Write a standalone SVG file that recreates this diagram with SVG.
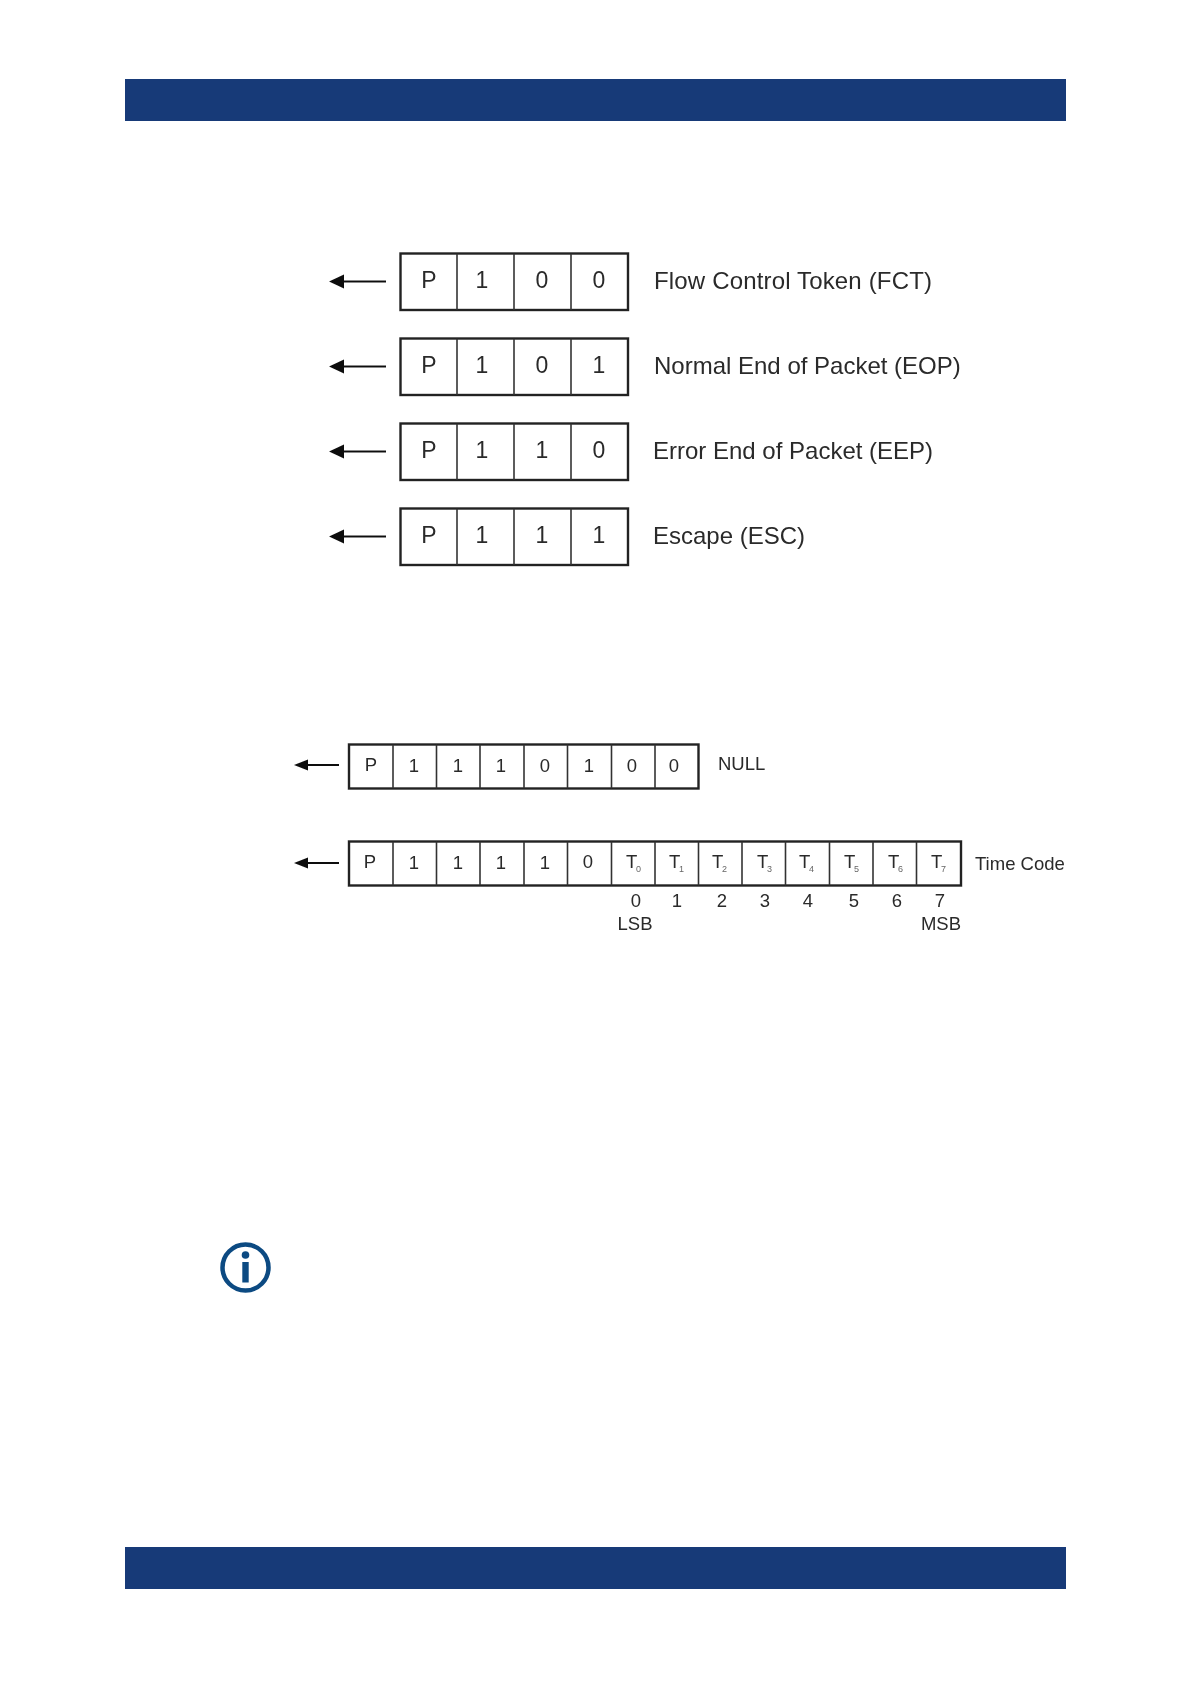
<svg xmlns="http://www.w3.org/2000/svg" width="1191" height="1684" viewBox="0 0 1191 1684">
<style>
text{font-family:"Liberation Sans",Arial,sans-serif;fill:#2a2a2a}
.c{text-anchor:middle}
.b{font-size:23px}
.l{font-size:24px}
.s{font-size:18.500px}
.u{font-size:9px;fill:#666}
.o{fill:#fff;stroke:#222;stroke-width:2.400}
.d{stroke:#333;stroke-width:1.600;fill:none}
.a{stroke:#111;stroke-width:2.200;fill:none}
.h{fill:#111}
.bar{fill:#173a78}
</style>
<defs><filter id="soft" x="-5%" y="-5%" width="110%" height="110%"><feGaussianBlur stdDeviation="0.400"/></filter></defs>
<rect width="1191" height="1684" fill="#fff"/>
<rect class="bar" x="125" y="79" width="941" height="42"/>
<rect class="bar" x="125" y="1547" width="941" height="42"/>
<g id="connectors" filter="url(#soft)">
<path class="a" d="M342 281.500H386M342 366.500H386M342 451.500H386M342 536.500H386M308 765H339M308 863H339"/>
<path class="h" d="M329 281.500L344 274.500V288.500ZM329 366.500L344 359.500V373.500ZM329 451.500L344 444.500V458.500ZM329 536.500L344 529.500V543.500ZM294 765L308 759.500V770.500ZM294 863L308 857.500V868.500Z"/>
</g>
<g id="fct" filter="url(#soft)"><rect class="o" x="400.500" y="253.500" width="227.500" height="56.500"/><path class="d" d="M457 253.500V310M514 253.500V310M571 253.500V310"/>
<text class="b c" x="429" y="288">P</text><text class="b c" x="482" y="288">1</text><text class="b c" x="542" y="288">0</text><text class="b c" x="599" y="288">0</text><text class="l" x="654" y="289" textLength="278">Flow Control Token (FCT)</text></g>
<g id="eop" filter="url(#soft)"><rect class="o" x="400.500" y="338.500" width="227.500" height="56.500"/><path class="d" d="M457 338.500V395M514 338.500V395M571 338.500V395"/>
<text class="b c" x="429" y="373">P</text><text class="b c" x="482" y="373">1</text><text class="b c" x="542" y="373">0</text><text class="b c" x="599" y="373">1</text><text class="l" x="654" y="374">Normal End of Packet (EOP)</text></g>
<g id="eep" filter="url(#soft)"><rect class="o" x="400.500" y="423.500" width="227.500" height="56.500"/><path class="d" d="M457 423.500V480M514 423.500V480M571 423.500V480"/>
<text class="b c" x="429" y="458">P</text><text class="b c" x="482" y="458">1</text><text class="b c" x="542" y="458">1</text><text class="b c" x="599" y="458">0</text><text class="l" x="653" y="459">Error End of Packet (EEP)</text></g>
<g id="esc" filter="url(#soft)"><rect class="o" x="400.500" y="508.500" width="227.500" height="56.500"/><path class="d" d="M457 508.500V565M514 508.500V565M571 508.500V565"/>
<text class="b c" x="429" y="543">P</text><text class="b c" x="482" y="543">1</text><text class="b c" x="542" y="543">1</text><text class="b c" x="599" y="543">1</text><text class="l" x="653" y="544">Escape (ESC)</text></g>
<g id="null" filter="url(#soft)"><rect class="o" x="349" y="744.500" width="349.500" height="44"/><path class="d" d="M393 744.500V788.500M436.500 744.500V788.500M480 744.500V788.500M524 744.500V788.500M567.500 744.500V788.500M611.500 744.500V788.500M655 744.500V788.500"/>
<text class="s c" x="371" y="771">P</text><text class="s c" x="414" y="772">1</text><text class="s c" x="458" y="772">1</text><text class="s c" x="501" y="772">1</text><text class="s c" x="545" y="772">0</text><text class="s c" x="589" y="772">1</text><text class="s c" x="632" y="772">0</text><text class="s c" x="674" y="772">0</text><text class="s" x="718" y="770">NULL</text></g>
<g id="timecode" filter="url(#soft)"><rect class="o" x="349" y="841.500" width="612" height="44"/><path class="d" d="M393 841.500V885.500M436.500 841.500V885.500M480 841.500V885.500M524 841.500V885.500M567.500 841.500V885.500M611.500 841.500V885.500M655 841.500V885.500M698.500 841.500V885.500M742 841.500V885.500M785.500 841.500V885.500M829.500 841.500V885.500M873 841.500V885.500M916.500 841.500V885.500"/>
<text class="s c" x="370" y="868">P</text><text class="s c" x="414" y="869">1</text><text class="s c" x="458" y="869">1</text><text class="s c" x="501" y="869">1</text><text class="s c" x="545" y="869">1</text><text class="s c" x="588" y="868">0</text>
<text class="s" x="626" y="868">T</text><text class="u" x="636" y="872">0</text>
<text class="s" x="669" y="868">T</text><text class="u" x="679" y="872">1</text>
<text class="s" x="712" y="868">T</text><text class="u" x="722" y="872">2</text>
<text class="s" x="757" y="868">T</text><text class="u" x="767" y="872">3</text>
<text class="s" x="799" y="868">T</text><text class="u" x="809" y="872">4</text>
<text class="s" x="844" y="868">T</text><text class="u" x="854" y="872">5</text>
<text class="s" x="888" y="868">T</text><text class="u" x="898" y="872">6</text>
<text class="s" x="931" y="868">T</text><text class="u" x="941" y="872">7</text>
<text class="s" x="975" y="870">Time Code</text>
<text class="s c" x="636" y="907">0</text><text class="s c" x="677" y="907">1</text><text class="s c" x="722" y="907">2</text><text class="s c" x="765" y="907">3</text><text class="s c" x="808" y="907">4</text><text class="s c" x="854" y="907">5</text><text class="s c" x="897" y="907">6</text><text class="s c" x="940" y="907">7</text>
<text class="s c" x="635" y="930">LSB</text><text class="s c" x="941" y="930">MSB</text></g>
<g id="info"><circle cx="245.500" cy="1267.500" r="23" fill="none" stroke="#0c4a82" stroke-width="4.500"/><circle cx="245.500" cy="1255" r="3.800" fill="#0c4a82"/><rect x="242.300" y="1262" width="6.400" height="20.500" fill="#0c4a82"/></g>
</svg>
